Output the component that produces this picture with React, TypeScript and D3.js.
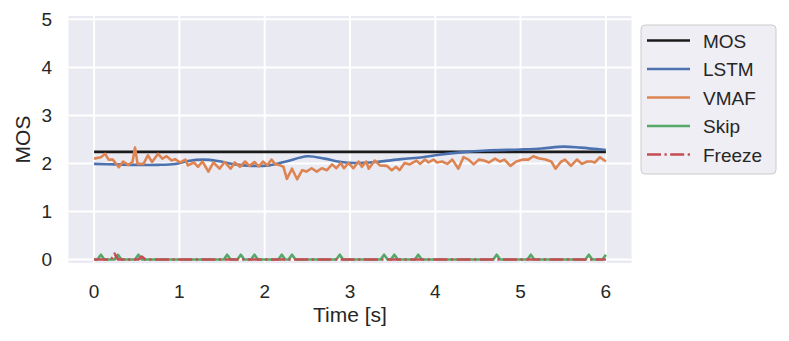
import React from 'react';
import * as d3 from 'd3';

type Pt = [number, number];

// reference score (flat)
const mos: Pt[] = [[0, 2.24], [6, 2.24]];

const lstm: Pt[] = [
  [0, 1.99], [0.25, 1.98], [0.5, 1.97], [0.75, 1.97], [0.95, 1.99], [1.1, 2.05],
  [1.28, 2.08], [1.45, 2.05], [1.65, 1.98], [1.85, 1.95], [2.05, 1.96], [2.25, 2.04],
  [2.5, 2.15], [2.7, 2.1], [2.9, 2.03], [3.05, 2.01], [3.3, 2.03], [3.6, 2.09],
  [3.85, 2.13], [4.0, 2.17], [4.3, 2.23], [4.6, 2.27], [5.0, 2.29], [5.25, 2.31],
  [5.5, 2.35], [5.7, 2.33], [6.0, 2.28],
];

const vmaf: Pt[] = [
  [0, 2.1], [0.08, 2.13], [0.13, 2.2], [0.17, 2.08], [0.22, 2.08], [0.29, 1.92],
  [0.34, 2.04], [0.4, 1.97], [0.45, 2.03], [0.48, 2.33], [0.51, 1.99], [0.58, 1.99],
  [0.63, 2.17], [0.68, 2.03], [0.75, 2.2], [0.8, 2.1], [0.85, 2.15], [0.91, 2.06],
  [0.95, 2.09], [1.01, 2.02], [1.07, 2.08], [1.1, 1.96], [1.17, 2.02], [1.22, 1.93],
  [1.27, 2.04], [1.34, 1.83], [1.4, 2.02], [1.47, 1.89], [1.53, 2.03], [1.6, 1.89],
  [1.65, 2.02], [1.71, 1.93], [1.77, 2.04], [1.82, 1.95], [1.88, 2.03], [1.93, 1.94],
  [1.98, 2.04], [2.03, 1.96], [2.08, 2.08], [2.12, 1.99], [2.18, 1.96], [2.22, 1.93],
  [2.26, 1.68], [2.32, 1.89], [2.38, 1.67], [2.44, 1.86], [2.49, 1.83], [2.55, 1.9],
  [2.61, 1.83], [2.67, 1.9], [2.73, 1.86], [2.79, 1.98], [2.84, 1.9], [2.89, 2.01],
  [2.93, 1.9], [2.98, 2.01], [3.04, 1.9], [3.1, 2.04], [3.14, 1.93], [3.19, 2.04],
  [3.22, 1.89], [3.29, 2.06], [3.35, 1.96], [3.43, 1.95], [3.49, 1.86], [3.54, 1.93],
  [3.58, 1.86], [3.64, 2.01], [3.7, 1.98], [3.78, 2.06], [3.82, 1.99], [3.88, 2.08],
  [3.92, 2.02], [3.98, 2.08], [4.02, 2.02], [4.08, 2.04], [4.14, 1.99], [4.2, 2.08],
  [4.27, 1.89], [4.33, 2.13], [4.39, 2.08], [4.45, 1.98], [4.51, 2.08], [4.57, 2.06],
  [4.63, 2.02], [4.7, 2.1], [4.76, 2.04], [4.81, 2.08], [4.88, 1.95], [4.95, 2.04],
  [5.03, 2.08], [5.09, 2.08], [5.15, 2.15], [5.21, 2.11], [5.29, 2.08], [5.36, 2.04],
  [5.41, 1.89], [5.47, 2.03], [5.52, 2.08], [5.59, 1.95], [5.66, 2.08], [5.72, 1.99],
  [5.78, 2.04], [5.83, 2.04], [5.87, 2.02], [5.93, 2.13], [6.0, 2.04],
];

const skip: Pt[] = [
  [0, 0], [0.04, 0], [0.08, 0.1], [0.12, 0], [0.24, 0], [0.28, 0.1], [0.32, 0],
  [0.48, 0], [0.52, 0.1], [0.56, 0], [1.52, 0], [1.56, 0.1], [1.6, 0], [1.68, 0],
  [1.72, 0.1], [1.76, 0], [1.84, 0], [1.88, 0.1], [1.92, 0], [2.16, 0], [2.2, 0.1],
  [2.24, 0], [2.28, 0], [2.32, 0.1], [2.36, 0], [2.84, 0], [2.88, 0.1], [2.92, 0],
  [3.36, 0], [3.4, 0.1], [3.44, 0], [3.48, 0], [3.52, 0.1], [3.56, 0], [3.76, 0],
  [3.8, 0.1], [3.84, 0], [4.68, 0], [4.72, 0.1], [4.76, 0], [5.08, 0], [5.12, 0.1],
  [5.16, 0], [5.76, 0], [5.8, 0.1], [5.84, 0], [5.96, 0], [6.0, 0.1],
];

const freeze: Pt[] = [
  [0, 0], [0.2, 0], [0.24, 0.12], [0.28, 0], [0.52, 0], [0.56, 0.06], [0.6, 0], [6, 0],
];

const xTicks = [0, 1, 2, 3, 4, 5, 6];
const yTicks = [0, 1, 2, 3, 4, 5];

const series = [
  { name: 'MOS', data: mos, color: '#1a1a1a', dash: '', smooth: false },
  { name: 'LSTM', data: lstm, color: '#4C72B0', dash: '', smooth: true },
  { name: 'VMAF', data: vmaf, color: '#DD8452', dash: '', smooth: false },
  { name: 'Skip', data: skip, color: '#55A868', dash: '', smooth: false },
  { name: 'Freeze', data: freeze, color: '#C44E52', dash: '14,3.5,2.2,3.5', smooth: false },
];

const W = 789;
const H = 341;
const plot = { left: 68.5, right: 631.5, top: 16, bottom: 263 };
const font = '"Liberation Sans", Arial, sans-serif';
const lw = 2.6;

export default function App() {
  const x = d3.scaleLinear().domain([-0.3, 6.3]).range([plot.left, plot.right]);
  const y = d3.scaleLinear().domain([-0.073, 5.07]).range([plot.bottom, plot.top]);

  const line = (smooth: boolean) =>
    d3.line<Pt>()
      .x(d => x(d[0]))
      .y(d => y(d[1]))
      .curve(smooth ? d3.curveCatmullRom.alpha(0.5) : d3.curveLinear);

  const lx = 647;
  const rowY = (i: number) => 40.5 + i * 28.5;

  return (
    <svg width={W} height={H} style={{ position: 'absolute', left: 0, top: 0, background: '#fff' }}>
      <rect x={plot.left} y={plot.top} width={plot.right - plot.left} height={plot.bottom - plot.top} fill="#EAEAF2" />
      <g stroke="#fff" strokeWidth={2}>
        {xTicks.map(t => (
          <line key={'gx' + t} x1={x(t)} x2={x(t)} y1={plot.top} y2={plot.bottom} />
        ))}
        {yTicks.map(t => (
          <line key={'gy' + t} x1={plot.left} x2={plot.right} y1={y(t)} y2={y(t)} />
        ))}
      </g>
      <defs>
        <clipPath id="clip">
          <rect x={plot.left} y={plot.top} width={plot.right - plot.left} height={plot.bottom - plot.top} />
        </clipPath>
      </defs>
      <g clipPath="url(#clip)" fill="none">
        {series.map(s => (
          <path
            key={s.name}
            d={line(s.smooth)(s.data) || ''}
            stroke={s.color}
            strokeWidth={lw}
            strokeDasharray={s.dash || undefined}
            strokeLinejoin="round"
          />
        ))}
      </g>
      <g fontFamily={font} fontSize={19} fill="#262626">
        {xTicks.map(t => (
          <text key={'tx' + t} x={x(t)} y={297.5} textAnchor="middle">{t}</text>
        ))}
        {yTicks.map(t => (
          <text key={'ty' + t} x={52} y={y(t) + 6.8} textAnchor="end">{t}</text>
        ))}
      </g>
      <text x={(plot.left + plot.right) / 2} y={321.7} textAnchor="middle" fontFamily={font} fontSize={21} fill="#262626">
        Time [s]
      </text>
      <text
        transform={`translate(29.5,${(plot.top + plot.bottom) / 2}) rotate(-90)`}
        textAnchor="middle"
        fontFamily={font}
        fontSize={21}
        fill="#262626"
      >
        MOS
      </text>
      <rect x={641} y={25} width={135} height={149} rx={4} fill="#EEEEF4" stroke="#CCCCCC" strokeWidth={1} />
      {series.map((s, i) => (
        <g key={'lg' + s.name}>
          <line x1={lx} x2={lx + 43} y1={rowY(i)} y2={rowY(i)} stroke={s.color} strokeWidth={lw} strokeDasharray={s.dash || undefined} />
          <text x={703} y={rowY(i) + 7} fontFamily={font} fontSize={19} fill="#262626">{s.name}</text>
        </g>
      ))}
    </svg>
  );
}
